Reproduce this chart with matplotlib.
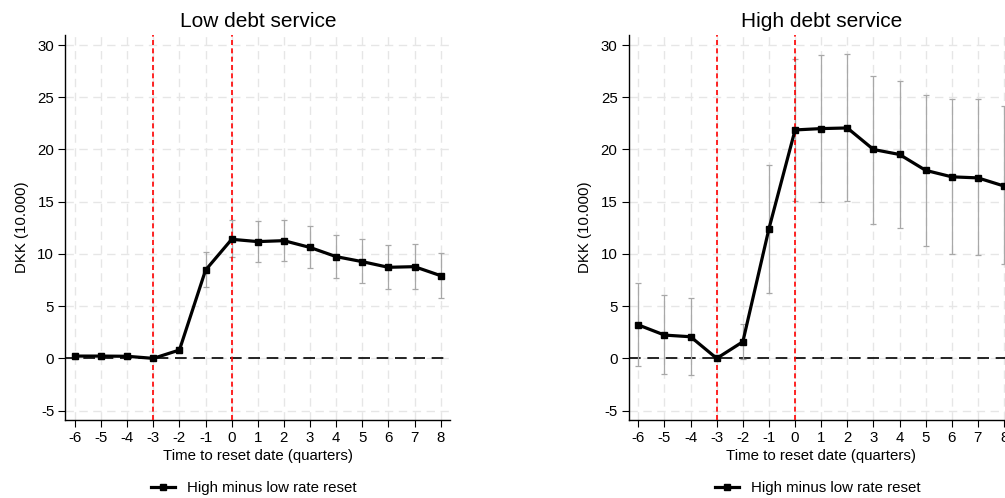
import matplotlib
matplotlib.use("Agg")
import matplotlib.pyplot as plt
import numpy as np

plt.rcParams['font.family'] = ['Liberation Sans', 'DejaVu Sans']
plt.rcParams['axes.unicode_minus'] = False

quarters = [-6, -5, -4, -3, -2, -1, 0, 1, 2, 3, 4, 5, 6, 7, 8]

low_est = [0.22, 0.22, 0.2, 0.0, 0.8, 8.45, 11.4, 11.18, 11.27, 10.62, 9.74, 9.26, 8.72, 8.78, 7.92]
low_lo = [-0.1, -0.1, -0.1, 0.0, 0.5, 6.85, 9.69, 9.2, 9.33, 8.63, 7.67, 7.19, 6.6, 6.6, 5.78]
low_hi = [0.55, 0.55, 0.5, 0.0, 1.1, 10.15, 13.25, 13.16, 13.25, 12.68, 11.8, 11.44, 10.86, 10.93, 10.08]

high_est = [3.2, 2.23, 2.07, 0.0, 1.59, 12.42, 21.87, 22.0, 22.06, 20.0, 19.52, 18.0, 17.38, 17.28, 16.5]
high_lo = [-0.77, -1.53, -1.63, 0.0, -0.1, 6.3, 15.1, 15.0, 15.05, 12.9, 12.44, 10.8, 10.04, 9.88, 9.0]
high_hi = [7.24, 6.06, 5.74, 0.0, 3.25, 18.5, 28.63, 29.04, 29.1, 27.06, 26.6, 25.17, 24.88, 24.8, 24.16]

titles = ["Low debt service", "High debt service"]
yticks = [-5, 0, 5, 10, 15, 20, 25, 30]
event_lines = [-3, 0]
legend_label = "High minus low rate reset"

FS = 10.8
fig = plt.figure(figsize=(10.05, 4.98), dpi=100)
W, H = 1005, 498
ax_w = 385 / W
ax_b = 1 - 420 / H
ax_h = 385 / H
lefts = [65.3 / W, 628.7 / W]

panels = [(low_est, low_lo, low_hi), (high_est, high_lo, high_hi)]
for i, (est, lo, hi) in enumerate(panels):
    ax = fig.add_axes([lefts[i], ax_b, ax_w, ax_h])
    x = np.array(quarters)
    e = np.array(est)
    yerr = np.vstack([e - np.array(lo), np.array(hi) - e])
    mask = (yerr.sum(axis=0) > 0)
    ax.errorbar(x[mask], e[mask], yerr=yerr[:, mask], fmt='none', ecolor='#a8a8a8',
                elinewidth=0.9, capsize=2.5, capthick=0.9, zorder=2)
    ax.axhline(0, color='black', lw=1.2, ls=(0, (7, 4)), zorder=1)
    for v in event_lines:
        ax.axvline(v, color='#ff0000', lw=1.2, ls=(0, (3, 2)), zorder=3)
    ax.plot(x, e, color='black', lw=2.3, marker='s', ms=5, zorder=4, label=legend_label)
    ax.set_xlim(-6.37, 8.37)
    ax.set_ylim(-5.9, 30.96)
    ax.set_xticks(quarters)
    ax.set_yticks(yticks)
    ax.grid(True, color='#e6e6e6', lw=1.0, ls=(0, (6, 4)), zorder=0)
    ax.set_axisbelow(True)
    for s in ['top', 'right']:
        ax.spines[s].set_visible(False)
    for s in ['left', 'bottom']:
        ax.spines[s].set_linewidth(1.0)
    ax.tick_params(direction='out', length=5, width=0.8, labelsize=FS, pad=3)
    ax.set_title(titles[i], fontsize=15, pad=6)
    ax.set_xlabel("Time to reset date (quarters)", fontsize=FS, labelpad=3)
    ax.set_ylabel("DKK (10.000)", fontsize=FS, labelpad=6)
    ax.legend(loc='center', bbox_to_anchor=(0.49, -0.177), frameon=False,
              fontsize=FS, handlelength=1.6, handletextpad=0.8)

fig.savefig("out.png", dpi=100)
